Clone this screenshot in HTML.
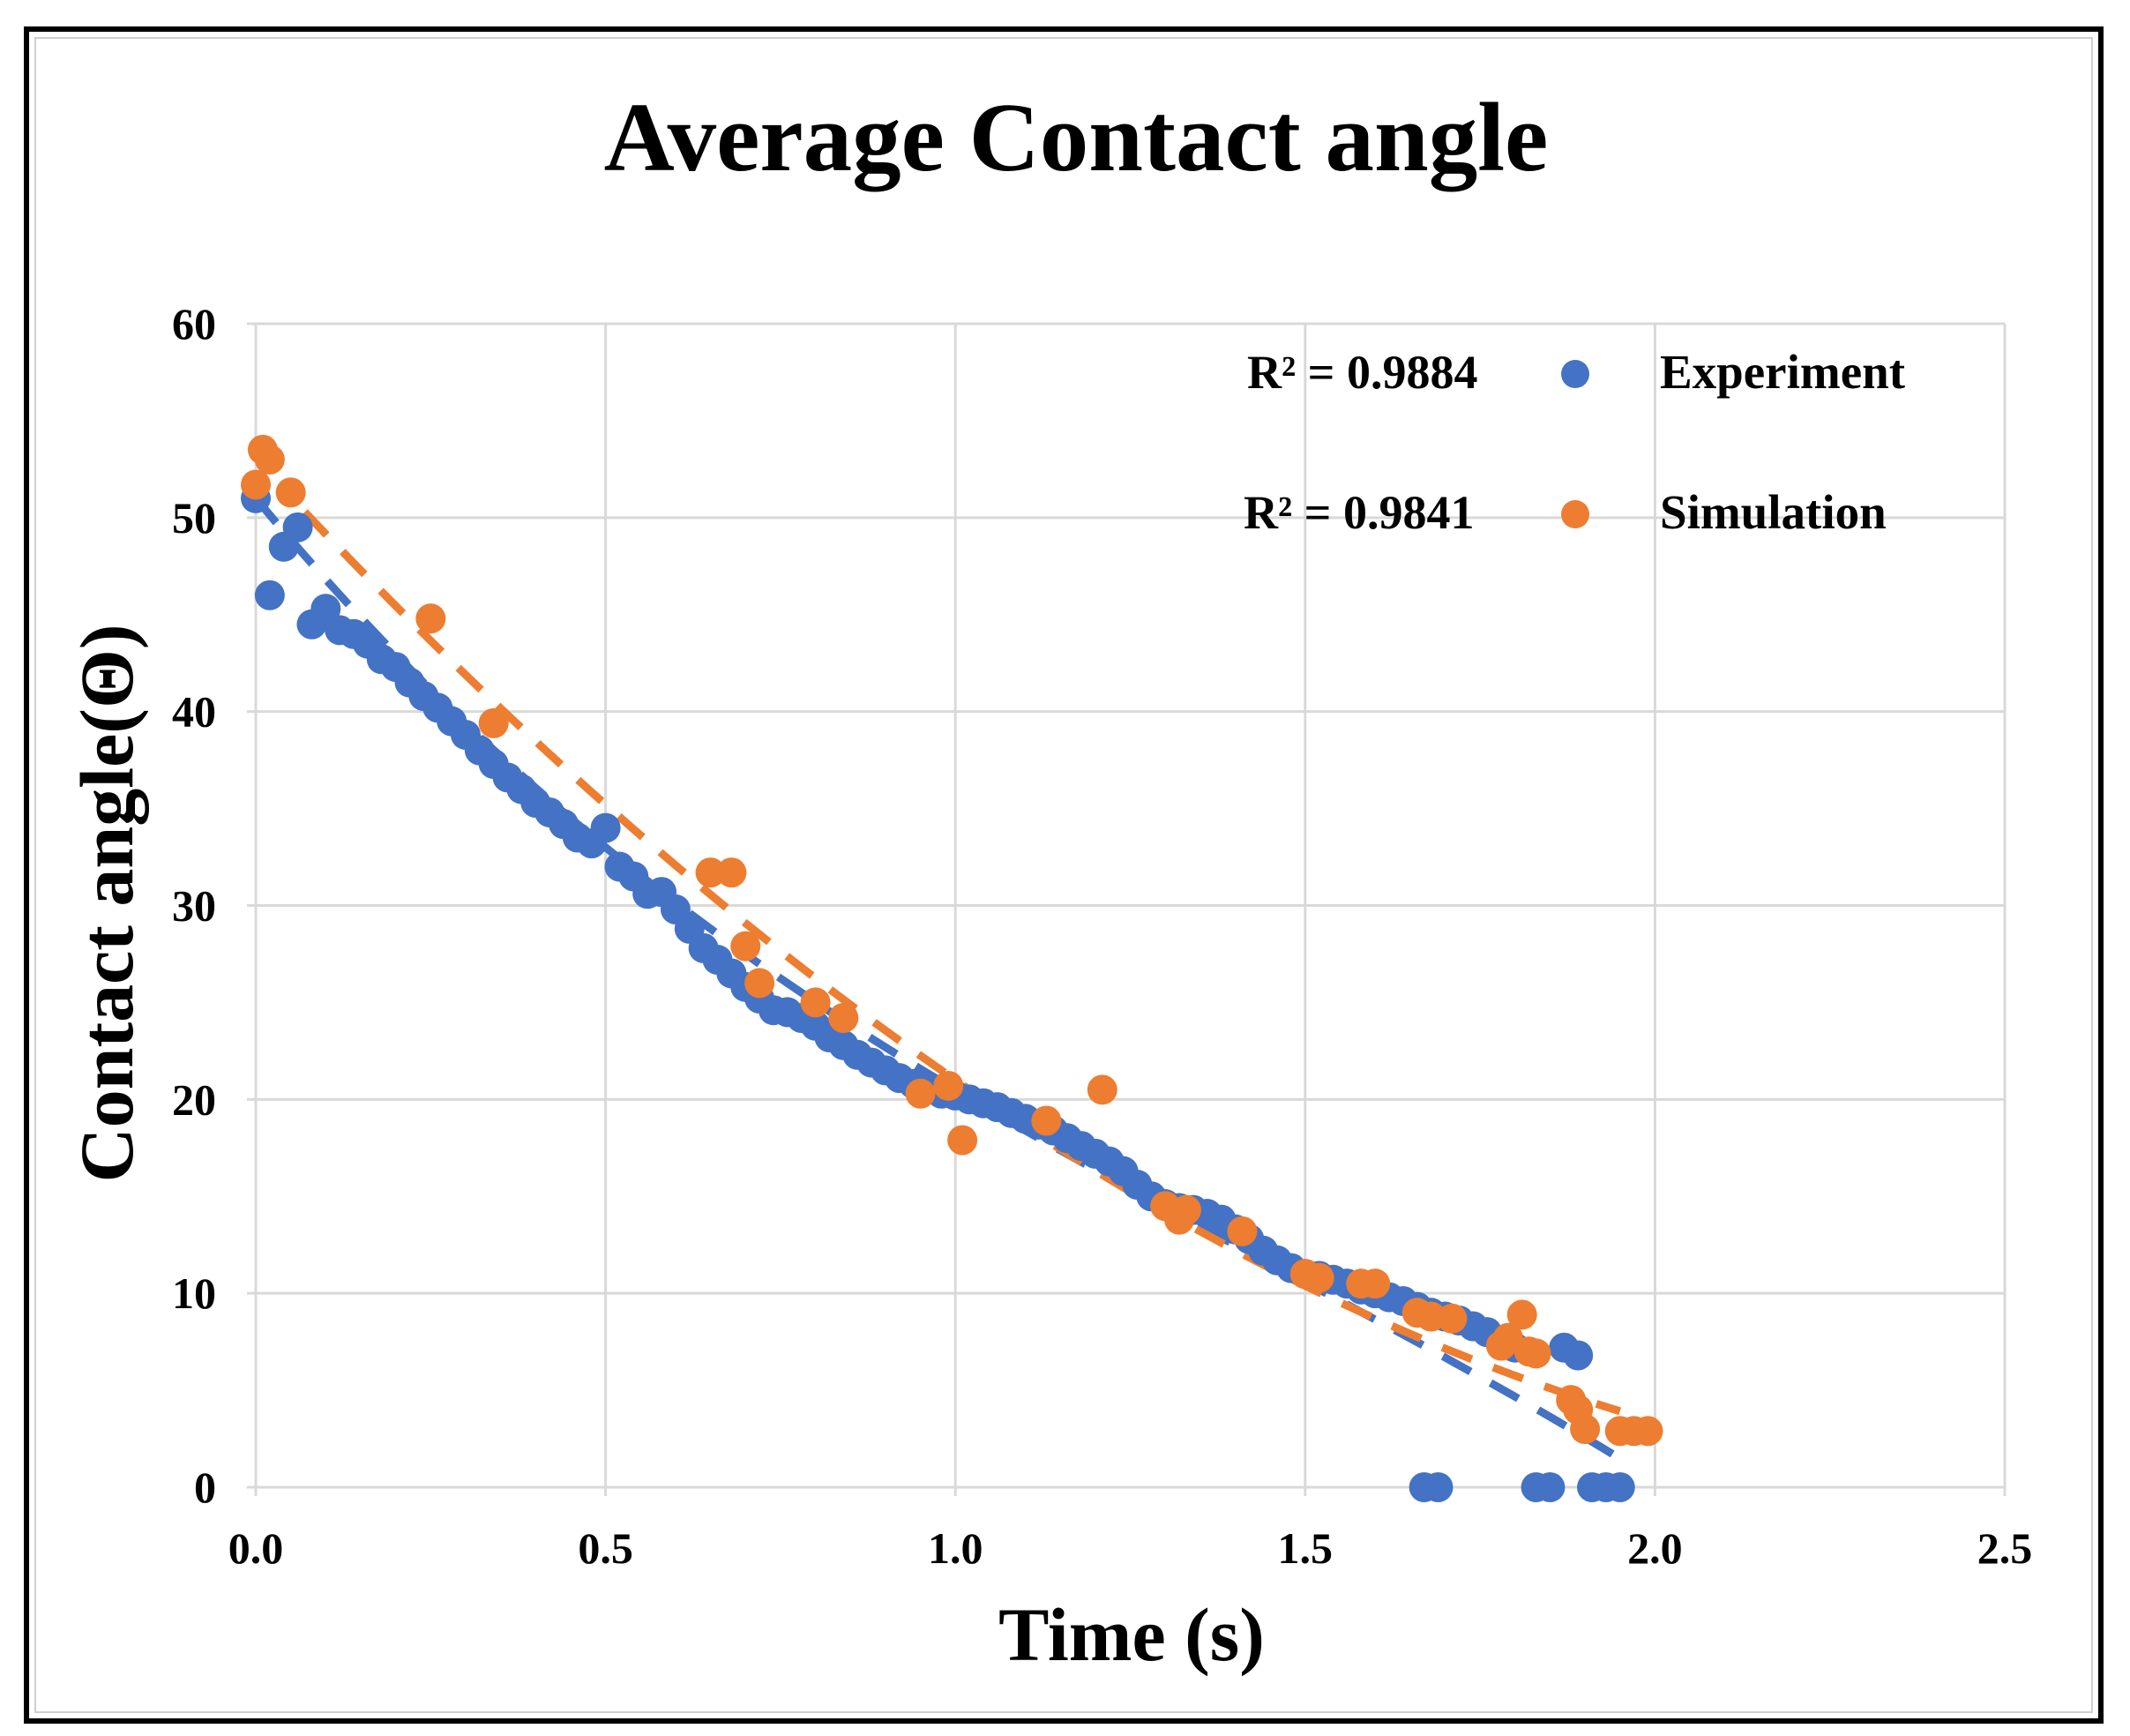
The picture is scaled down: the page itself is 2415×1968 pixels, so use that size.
<!DOCTYPE html>
<html><head><meta charset="utf-8"><style>
html,body{margin:0;padding:0;background:#fff;}
svg{display:block;font-family:"Liberation Serif",serif;}
</style></head><body>
<svg id="chart" width="2415" height="1968" viewBox="0 0 2415 1968">
<rect x="30" y="33" width="2352" height="1918" fill="#fff" stroke="#000" stroke-width="6"/>
<rect x="40" y="43" width="2332" height="1898" fill="none" stroke="#cfcfcf" stroke-width="2"/>
<text x="1220" y="193" text-anchor="middle" font-size="111" font-weight="bold">Average Contact angle</text>
<g id="grid"></g>
<g id="ticks"></g>
<g id="trends"></g>
<g id="marks"></g>
<text x="1283" y="1882" text-anchor="middle" font-size="86" font-weight="bold">Time (s)</text>
<text transform="translate(150,1024) rotate(-90)" text-anchor="middle" font-size="86" font-weight="bold">Contact angle(Θ)</text>
<g>
<text x="1414" y="440" font-size="54" font-weight="bold">R² = 0.9884</text>
<circle cx="1786" cy="424" r="16" fill="#4472C4"/>
<text x="1882" y="440" font-size="55" font-weight="bold">Experiment</text>
<text x="1410" y="599" font-size="54" font-weight="bold">R² = 0.9841</text>
<circle cx="1786" cy="583" r="16" fill="#ED7D31"/>
<text x="1882" y="599" font-size="55" font-weight="bold">Simulation</text>
</g>
</svg>
<script>
const xTicks=[0,0.5,1.0,1.5,2.0,2.5];
const yTicks=[0,10,20,30,40,50,60];
const expX=[0,0.02,0.04,0.06,0.08,0.1,0.12,0.14,0.16,0.18,0.2,0.22,0.24,0.26,0.28,0.3,0.32,0.34,0.36,0.38,0.4,0.42,0.44,0.46,0.48,0.5,0.52,0.54,0.56,0.58,0.6,0.62,0.64,0.66,0.68,0.7,0.72,0.74,0.76,0.78,0.8,0.82,0.84,0.86,0.88,0.9,0.92,0.94,0.96,0.98,1.0,1.02,1.04,1.06,1.08,1.1,1.12,1.14,1.16,1.18,1.2,1.22,1.24,1.26,1.28,1.3,1.32,1.34,1.36,1.38,1.4,1.42,1.44,1.46,1.48,1.5,1.52,1.54,1.56,1.58,1.6,1.62,1.64,1.66,1.68,1.7,1.72,1.74,1.76,1.78,1.8,1.87,1.89,1.67,1.69,1.83,1.85,1.91,1.93,1.95];
const expY=[51,46,48.5,49.5,44.5,45.3,44.2,44,43.5,42.7,42.3,41.5,40.8,40.2,39.5,38.8,38,37.3,36.6,36,35.3,34.8,34.2,33.5,33.2,34,32,31.5,30.6,30.7,29.8,28.8,27.8,27.2,26.5,25.8,25.2,24.6,24.5,24.2,23.8,23.2,22.8,22.3,21.9,21.5,21.1,20.8,20.5,20.3,20.2,20,19.8,19.6,19.3,19,18.7,18.4,18,17.6,17.2,16.8,16.3,15.6,15,14.6,14.4,14.3,14.1,13.8,13.3,12.8,12.2,11.7,11.3,11,10.9,10.7,10.5,10.2,10,9.8,9.6,9.3,9,8.8,8.6,8.3,8,7.5,7.2,7.2,6.8,0,0,0,0,0,0,0];
const simX=[0,0.01,0.02,0.05,0.25,0.34,0.65,0.68,0.7,0.72,0.8,0.84,0.95,0.99,1.01,1.13,1.21,1.3,1.32,1.33,1.41,1.5,1.52,1.58,1.6,1.66,1.68,1.71,1.78,1.79,1.81,1.82,1.83,1.88,1.89,1.9,1.95,1.97,1.99];
const simY=[51.7,53.5,53,51.3,44.8,39.4,31.7,31.7,27.9,26,25,24.2,20.3,20.7,17.9,18.9,20.5,14.5,13.8,14.3,13.2,11,10.8,10.5,10.5,9,8.8,8.7,7.3,7.7,8.9,7,6.9,4.5,4,3,2.9,2.9,2.9];
const expTrendCoef=[51,-43.44,16.8,-3.87];
const expTrendRange=[0,1.96];
const simTrendCoef=[53,-39.19,7.19,0];
const simTrendRange=[0.07,1.95];

const NS="http://www.w3.org/2000/svg";
const X0=290,X1=2273,Y0=1686,Y1=367;
const xs=v=>X0+(v/2.5)*(X1-X0);
const ys=v=>Y0-(v/60)*(Y0-Y1);
function mk(tag,attrs,parent){const e=document.createElementNS(NS,tag);for(const k in attrs)e.setAttribute(k,attrs[k]);parent.appendChild(e);return e;}
const grid=document.getElementById('grid'),ticks=document.getElementById('ticks'),trends=document.getElementById('trends'),marks=document.getElementById('marks');
yTicks.forEach(v=>{
  const l=mk('line',{x1:X0-10,x2:X1,y1:ys(v),y2:ys(v),stroke:'#d9d9d9','stroke-width':3},grid);
  
  
  const t=mk('text',{x:245,y:ys(v)+17,'text-anchor':'end','font-size':50,'font-weight':'bold'},ticks);
  t.textContent=v;
  
  
});
xTicks.forEach(v=>{
  const l=mk('line',{x1:xs(v),x2:xs(v),y1:Y1,y2:Y0+10,stroke:'#d9d9d9','stroke-width':3},grid);
  
  
  const t=mk('text',{x:xs(v),y:1772,'text-anchor':'middle','font-size':50,'font-weight':'bold'},ticks);
  t.textContent=v.toFixed(1);
  
  
});
function trend(coef,range,color,name){
  let d='';
  for(let i=0;i<=60;i++){const x=range[0]+(range[1]-range[0])*i/60;const y=coef[0]+coef[1]*x+coef[2]*x*x+coef[3]*x*x*x;d+=(i?'L':'M')+xs(x).toFixed(1)+','+ys(y).toFixed(1);}
  const p=mk('path',{d:d,fill:'none',stroke:color,'stroke-width':9,'stroke-dasharray':'36 26'},trends);
  
  
}
function pts(X,Y,color,name,r){
  X.forEach((x,i)=>{
    const c=mk('circle',{cx:xs(x),cy:ys(Y[i]),r:r,fill:color},marks);
    
    
  });
}
pts(expX,expY,'#4472C4','experiment-point',17);
trend(expTrendCoef,expTrendRange,'#4472C4','experiment-trendline');
pts(simX,simY,'#ED7D31','simulation-point',17);
trend(simTrendCoef,simTrendRange,'#ED7D31','simulation-trendline');
</script>
</body></html>
